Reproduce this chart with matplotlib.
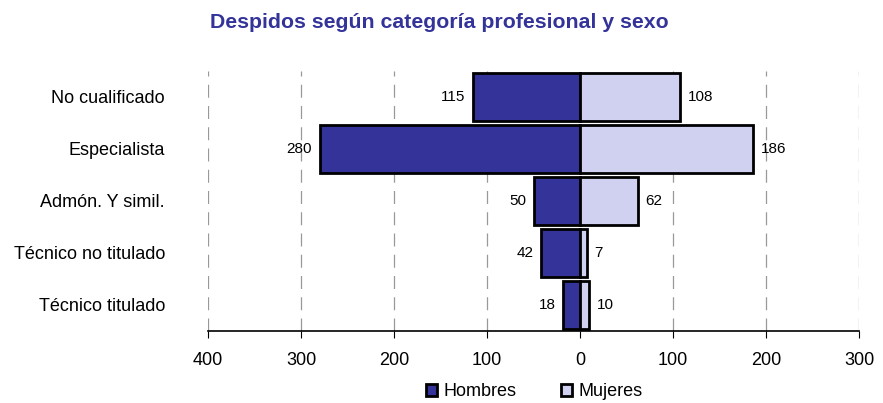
import numpy as np
import matplotlib.pyplot as plt

# Datos
categorias = ["No cualificado", "Especialista", "Admón. Y simil.",
              "Técnico no titulado", "Técnico titulado"]
hombres = [115, 280, 50, 42, 18]
mujeres = [108, 186, 62, 7, 10]
ticks = [-400, -300, -200, -100, 0, 100, 200, 300]
tick_labels = ["400", "300", "200", "100", "0", "100", "200", "300"]

plt.rcParams['font.family'] = ['Liberation Sans', 'DejaVu Sans']

fig = plt.figure(figsize=(8.83, 4.03), dpi=100)
ax = fig.add_axes([0.2356, 0.1787, 0.7372, 0.6452])

y = np.arange(len(categorias))
h = -np.array(hombres)
m = np.array(mujeres)

for t in ticks:
    if t != 0:
        ax.axvline(t, color="#999999", lw=0.9, ls=(0, (10.4, 6.6)), zorder=0)

ax.barh(y, h, height=0.925, color="#333399", edgecolor="black", lw=2,
        label="Hombres", zorder=2)
ax.barh(y, m, height=0.925, color="#D0D0F0", edgecolor="black", lw=2,
        label="Mujeres", zorder=2)

for yi, v in zip(y, hombres):
    ax.text(-v - 8, yi, str(v), ha="right", va="center", fontsize=11)
for yi, v in zip(y, mujeres):
    ax.text(v + 8, yi, str(v), ha="left", va="center", fontsize=11)

ax.set_xlim(-400, 300)
ax.set_ylim(len(categorias) - 0.5, -0.5)
ax.set_xticks(ticks)
ax.set_xticklabels(tick_labels, fontsize=13)
ax.set_yticks(y)
ax.set_yticklabels(categorias, fontsize=13)
ax.tick_params(axis="y", length=0, pad=31)
ax.tick_params(axis="x", length=5, direction="out", color="black", pad=10)

for s in ["top", "right", "left"]:
    ax.spines[s].set_visible(False)
ax.spines["bottom"].set_linewidth(1.2)

fig.text(0.498, 0.945, "Despidos según categoría profesional y sexo",
         ha="center", va="center", fontsize=15.3, fontweight="bold",
         color="#333399")

fig.legend(loc="center", bbox_to_anchor=(0.605, 0.028), ncol=2, frameon=False,
           fontsize=13, handlelength=0.6, handleheight=0.6, handletextpad=0.35,
           columnspacing=2.5)

fig.savefig("out.png", dpi=100)
